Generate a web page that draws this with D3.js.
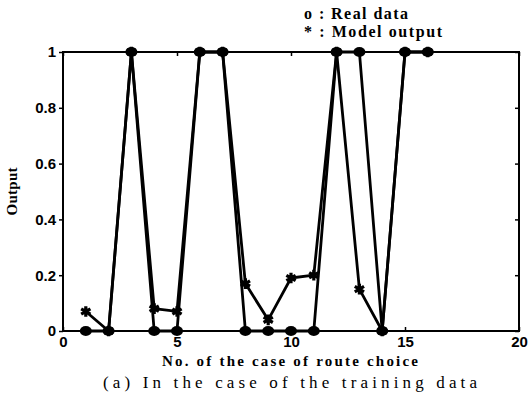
<!DOCTYPE html>
<html>
<head>
<meta charset="utf-8">
<script src="https://cdn.jsdelivr.net/npm/d3@7"></script>
<style>
body{margin:0;background:#fff;}
svg{display:block;}
.tick text{font-family:"Liberation Sans",Arial,sans-serif;font-weight:bold;font-size:15px;fill:#000;}
.serif{font-family:"Liberation Serif","Times New Roman",serif;fill:#000;}
</style>
</head>
<body>
<div id="chart"></div>
<script>
// case numbers and the two series
var cases = [1,2,3,4,5,6,7,8,9,10,11,12,13,14,15,16];
var realData = [0,0,1,0,0,1,1,0,0,0,0,1,1,0,1,1];
var modelOutput = [0.07,0,1,0.08,0.07,1,1,0.17,0.04,0.19,0.2,1,0.15,0,1,1];
var xTicks = [0,5,10,15,20];
var yTicks = [0,0.2,0.4,0.6,0.8,1];

var W = 530, H = 398;
var m = {left:63, right:11, top:52, bottom:67};

var svg = d3.select("#chart").append("svg")
	.attr("width",W)
	.attr("height",H);

var x = d3.scaleLinear().domain([0,20]).range([m.left,W-m.right]);
var y = d3.scaleLinear().domain([0,1]).range([H-m.bottom,m.top]);

// box
svg.append("rect")
	.attr("x",x(0)).attr("y",y(1))
	.attr("width",x(20)-x(0)).attr("height",y(0)-y(1))
	.attr("fill","none").attr("stroke","#000").attr("stroke-width",2);

// axes
var fmtY = function(d){return d===0||d===1?String(d):d3.format(".1f")(d);};
svg.append("g").attr("transform","translate(0,"+y(0)+")")
	.call(d3.axisBottom(x).tickValues(xTicks).tickSize(-4).tickPadding(6))
	.call(function(g){g.select(".domain").remove();g.selectAll("line").attr("stroke-width",1.5);g.selectAll("text").attr("dy","0.75em").attr("y",5);});
svg.append("g").attr("transform","translate("+x(0)+",0)")
	.call(d3.axisLeft(y).tickValues(yTicks).tickFormat(fmtY).tickSize(4).tickPadding(3))
	.call(function(g){g.select(".domain").remove();g.selectAll("line").attr("stroke-width",1.5);});
svg.append("g").attr("transform","translate(0,"+y(1)+")")
	.call(d3.axisTop(x).tickValues(xTicks).tickSize(-4).tickFormat(""))
	.call(function(g){g.select(".domain").remove();g.selectAll("line").attr("stroke-width",1.5);});
svg.append("g").attr("transform","translate("+x(20)+",0)")
	.call(d3.axisRight(y).tickValues(yTicks).tickSize(-4).tickFormat(""))
	.call(function(g){g.select(".domain").remove();g.selectAll("line").attr("stroke-width",1.5);});

var line = d3.line()
	.x(function(d){return x(d[0]);})
	.y(function(d){return y(d[1]);});

var realPts = cases.map(function(c,i){return [c,realData[i]];});
var modelPts = cases.map(function(c,i){return [c,modelOutput[i]];});

svg.append("path").datum(realPts).attr("d",line)
	.attr("fill","none").attr("stroke","#000").attr("stroke-width",2.8).attr("stroke-linejoin","round");
svg.append("path").datum(modelPts).attr("d",line)
	.attr("fill","none").attr("stroke","#000").attr("stroke-width",2.8).attr("stroke-linejoin","round");

svg.selectAll(".real").data(realPts).enter().append("ellipse")
	.classed("real",true)
	.attr("cx",function(d){return x(d[0]);})
	.attr("cy",function(d){return y(d[1]);})
	.attr("rx",6).attr("ry",5)
	.attr("fill","#000");

svg.selectAll(".model").data(modelPts).enter().append("path")
	.classed("model",true)
	.attr("transform",function(d){return "translate("+x(d[0])+","+y(d[1])+")";})
	.attr("d",d3.symbol().type(d3.symbolAsterisk).size(80))
	.attr("fill","none").attr("stroke","#000").attr("stroke-width",3.2);

// labels
svg.append("text").classed("serif",true)
	.attr("transform","translate(17,"+((y(0)+y(1))/2)+") rotate(-90)")
	.attr("text-anchor","middle")
	.attr("font-size",15).attr("font-weight","bold")
	.attr("textLength",48).attr("lengthAdjust","spacing")
	.text("Output");
svg.append("text").classed("serif",true)
	.attr("x",162).attr("y",366)
	.attr("font-size",15).attr("font-weight","bold")
	.attr("textLength",256).attr("lengthAdjust","spacing")
	.text("No. of  the case of  route choice");
svg.append("text").classed("serif",true)
	.attr("x",103).attr("y",388)
	.attr("font-size",17)
	.attr("textLength",374).attr("lengthAdjust","spacing")
	.text("(a) In the case of the training data");

// legend
svg.append("text").classed("serif",true)
	.attr("x",304).attr("y",19)
	.attr("font-size",16).attr("font-weight","bold")
	.attr("textLength",104).attr("lengthAdjust","spacing")
	.text("o : Real data");
svg.append("text").classed("serif",true)
	.attr("x",304).attr("y",37)
	.attr("font-size",16).attr("font-weight","bold")
	.attr("textLength",138).attr("lengthAdjust","spacing")
	.text("* : Model output");
</script>
</body>
</html>
